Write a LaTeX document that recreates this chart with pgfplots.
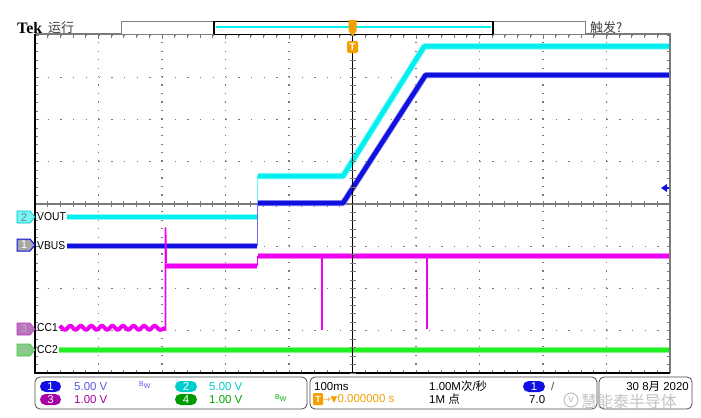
\documentclass[border=0pt]{standalone}
\usepackage{pgfplots}
\pgfplotsset{compat=1.18}
\usepackage{fontspec}
\setmainfont{Liberation Sans}
\newfontfamily\cjk{Noto Sans CJK SC}
\newfontfamily\tekfont{Liberation Serif}
\newfontfamily\sym{DejaVu Sans}
\definecolor{chcyan}{HTML}{00F0F0}
\definecolor{chblue}{HTML}{1010E0}
\definecolor{chmag}{HTML}{F000F0}
\definecolor{chgreen}{HTML}{20F020}
\definecolor{tekorange}{HTML}{F5A000}
\definecolor{gridgray}{HTML}{7A7A7A}
\newcommand\lbl{\fontsize{11.5}{12}\selectfont}

\begin{document}
\begin{tikzpicture}
\fill[white] (0,0) rectangle (701bp,-418bp);
\path[use as bounding box] (0,0) rectangle (701bp,-418bp);

% centre horizontal line of the graticule (under the traces)
\begin{scope}[x=1bp,y=-1bp]
\draw[gridgray, line width=1.6bp] (35,204) -- (670,204);
\foreach \k in {0,...,50} \draw[gridgray, line width=0.9bp] (35+12.7*\k,201) -- (35+12.7*\k,207);
\end{scope}

\begin{axis}[
  at={(35bp,-373bp)}, anchor=south west,
  scale only axis, width=635bp, height=338bp,
  xmin=-5, xmax=5, ymin=-4, ymax=4,
  xtick={-5,...,5}, ytick={-4,...,4},
  minor x tick num=4, minor y tick num=4,
  xticklabels={}, yticklabels={},
  tick align=inside,
  major tick length=3.5bp, minor tick length=3bp,
  tick style={gridgray, line width=0.9bp},
  grid=major,
  x grid style={gridgray, line width=1.4bp, dash pattern=on 1.3bp off 7.15bp},
  y grid style={gridgray, line width=1.4bp, dash pattern=on 1.3bp off 11.4bp},
  axis line style={draw=none},
  line join=round,
]
% CH2 VOUT (cyan)
\addplot[chcyan!45, line width=6.5bp] coordinates {(-4.50,-0.31) (-1.50,-0.31)};
\addplot[chcyan!45, line width=6.5bp] coordinates {(-1.49,0.66) (-0.15,0.66) (1.13,3.73) (5,3.73)};
\addplot[chcyan, line width=4.5bp] coordinates {(-4.50,-0.31) (-1.50,-0.31)};
\addplot[chcyan!60, line width=1.2bp] coordinates {(-1.50,-0.31) (-1.50,0.66)};
\addplot[chcyan, line width=4.5bp] coordinates {(-1.49,0.66) (-0.15,0.66) (1.13,3.73) (5,3.73)};
% CH1 VBUS (blue)
\addplot[chblue!45, line width=6bp] coordinates {(-4.50,-0.99) (-1.50,-0.99)};
\addplot[chblue!45, line width=6bp] coordinates {(-1.49,0.02) (-0.15,0.02) (1.15,3.05) (5,3.05)};
\addplot[chblue, line width=4.5bp] coordinates {(-4.50,-0.99) (-1.50,-0.99)};
\addplot[chblue!60, line width=1.2bp] coordinates {(-1.50,-0.99) (-1.50,0.02)};
\addplot[chblue, line width=4.5bp] coordinates {(-1.49,0.02) (-0.15,0.02) (1.15,3.05) (5,3.05)};
% CH3 CC1 (magenta), ripple before attach
\addplot[chmag, line width=4bp, smooth, tension=0.6] coordinates {
(-4.610,-2.88) (-4.527,-2.98) (-4.444,-2.88) (-4.361,-2.98) (-4.278,-2.88)
(-4.195,-2.98) (-4.112,-2.88) (-4.029,-2.98) (-3.946,-2.88) (-3.863,-2.98)
(-3.780,-2.88) (-3.697,-2.98) (-3.614,-2.88) (-3.531,-2.98) (-3.448,-2.88)
(-3.365,-2.98) (-3.282,-2.88) (-3.199,-2.98) (-3.116,-2.88) (-3.033,-2.98)
(-2.950,-2.93)};
\addplot[chmag, line width=1.8bp] coordinates {(-2.945,-3.00) (-2.945,-0.57) (-2.935,-1.47)};
\addplot[chmag!50, line width=6bp] coordinates {(-2.93,-1.47) (-1.50,-1.47)};
\addplot[chmag, line width=4.2bp] coordinates {(-2.93,-1.47) (-1.50,-1.47)};
\addplot[chmag, line width=1.2bp] coordinates {(-1.50,-1.47) (-1.50,-1.23)};
\addplot[chmag!50, line width=6bp] coordinates {(-1.49,-1.23) (5,-1.23)};
\addplot[chmag, line width=4.2bp] coordinates {(-1.49,-1.23) (-0.50,-1.23) (5,-1.23)};
\addplot[chmag, line width=2.5bp] coordinates {(-0.48,-1.23) (-0.48,-2.98)};
\addplot[chmag, line width=1.8bp] coordinates {(1.17,-1.23) (1.17,-2.97)};
% CH4 CC2 (green)
\addplot[chgreen!55, line width=6bp] coordinates {(-4.62,-3.455) (5,-3.455)};
\addplot[chgreen, line width=4bp] coordinates {(-4.62,-3.455) (5,-3.455)};
\end{axis}

\begin{scope}[x=1bp,y=-1bp]
% graticule border and trigger-position line
\draw[gridgray, line width=2bp] (35,34) -- (670,34) -- (670,373);
\draw[black, line width=1.4bp] (35,34) -- (35,373) -- (670,373);
\draw[black, line width=1.3bp] (352.5,34) -- (352.5,373);
\foreach \k in {0,...,40} \draw[gridgray, line width=0.9bp] (349.5,35+8.45*\k) -- (355.5,35+8.45*\k);
% trigger level arrow
\fill[chblue] (661,188) -- (667,184) -- (667,192) -- cycle;
\draw[chblue, line width=1.2bp] (664,188) -- (669,188);

% top bar
\node[anchor=base west, inner sep=0, font=\tekfont\bfseries\fontsize{16}{16}\selectfont] at (17,33) {Tek};
\node[anchor=base west, inner sep=0, text=black!75, font=\cjk\fontsize{13}{13}\selectfont] at (48,32) {运行};
\draw[gray, fill=white, line width=0.9bp] (121,21) rectangle (585,34);
\draw[black, line width=0.9bp] (214,21) -- (493,21) (214,34) -- (493,34);
\draw[black, line width=2bp] (214,21) -- (214,34) (493,21) -- (493,34);
\draw[chcyan, line width=1.2bp] (216,27) -- (491,27);
\fill[tekorange] (348.5,20) -- (356.5,20) -- (356.5,31) -- (352.5,36) -- (348.5,31) -- cycle;
\fill[tekorange, rounded corners=1.5bp] (347,41) rectangle (358,53);
\node[text=white, inner sep=0, font=\fontsize{10}{10}\selectfont\bfseries] at (352.5,47) {T};
\node[anchor=base west, inner sep=0, text=black!75, font=\cjk\fontsize{13}{13}\selectfont] at (590,32) {触发?};

% channel markers on the left
\filldraw[fill=chcyan!55, draw=chcyan!80!black, line width=0.6bp] (17,211) -- (30,211) -- (35,217) -- (30,223) -- (17,223) -- cycle;
\node[text=gray, inner sep=0, font=\lbl] at (24,217) {2};
\filldraw[fill=gray!70, draw=chblue, line width=1bp] (17,239) -- (30,239) -- (35,245) -- (30,251) -- (17,251) -- cycle;
\node[text=white, inner sep=0, font=\lbl] at (24,245) {1};
\filldraw[fill=chmag!40!gray!80, draw=chmag!50!gray, line width=0.6bp] (17,323) -- (30,323) -- (35,329) -- (30,335) -- (17,335) -- cycle;
\node[text=gray!60, inner sep=0, font=\lbl] at (24,329) {3};
\filldraw[fill=chgreen!50!gray!70, draw=chgreen!60!gray, line width=0.6bp] (17,344) -- (30,344) -- (35,350) -- (30,356) -- (17,356) -- cycle;
\node[text=gray!60, inner sep=0, font=\lbl] at (24,350) {4};
\node[anchor=west, inner sep=0, xscale=0.9, font=\lbl] at (37,217) {VOUT};
\node[anchor=west, inner sep=0, xscale=0.9, font=\lbl] at (37,246) {VBUS};
\node[anchor=west, inner sep=0, xscale=0.9, font=\lbl] at (37,328) {CC1};
\node[anchor=west, inner sep=0, xscale=0.9, font=\lbl] at (37,350) {CC2};

% readout panels
\draw[rounded corners=5bp, black!70, line width=0.8bp] (35,377) rectangle (307,409);
\draw[rounded corners=5bp, black!70, line width=0.8bp] (310,377) rectangle (597,409);
\draw[rounded corners=5bp, black!70, line width=0.8bp] (599,377) rectangle (692,409);

\fill[chblue, rounded corners=5.5bp] (40,381) rectangle (61,392);
\node[text=white, inner sep=0, font=\lbl] at (50.5,386.5) {1};
\fill[chcyan!85!black, rounded corners=5.5bp] (175,381) rectangle (197,392);
\node[text=white, inner sep=0, font=\lbl] at (186,386.5) {2};
\fill[violet!70!magenta, rounded corners=5.5bp] (40,394) rectangle (61,405);
\node[text=white, inner sep=0, font=\lbl] at (50.5,399.5) {3};
\fill[green!60!black, rounded corners=5.5bp] (175,394) rectangle (197,405);
\node[text=white, inner sep=0, font=\lbl] at (186,399.5) {4};

\node[anchor=west, inner sep=0, text=chblue!70!white, font=\lbl] at (74,386.5) {5.00 V};
\node[anchor=west, inner sep=0, text=chcyan!85!black, font=\lbl] at (209,386.5) {5.00 V};
\node[anchor=west, inner sep=0, text=violet!70!magenta, font=\lbl] at (74,399.5) {1.00 V};
\node[anchor=west, inner sep=0, text=green!65!black, font=\lbl] at (209,399.5) {1.00 V};
\node[anchor=west, inner sep=0, text=chblue!70!white, font=\fontsize{7}{7}\selectfont] at (139,385) {B\raisebox{-2bp}{W}};
\node[anchor=west, inner sep=0, text=green!65!black, font=\fontsize{7}{7}\selectfont] at (275,398) {B\raisebox{-2bp}{W}};

\node[anchor=west, inner sep=0, font=\lbl] at (314,386.5) {100ms};
\fill[tekorange, rounded corners=1bp] (313,393) rectangle (323,405);
\node[text=white, inner sep=0, font=\fontsize{9}{9}\selectfont\bfseries] at (318,399) {T};
\node[anchor=west, inner sep=0, text=tekorange, font=\lbl] at (323,399.5) {{\sym\fontsize{9}{9}\selectfont →▼}0.000000 s};
\node[anchor=west, inner sep=0, font=\lbl] at (429,386.5) {1.00M{\cjk 次}/{\cjk 秒}};
\node[anchor=west, inner sep=0, font=\lbl] at (429,399.5) {1M {\cjk 点}};
\fill[chblue, rounded corners=5.5bp] (523,381) rectangle (545,392);
\node[text=white, inner sep=0, font=\lbl] at (534,386.5) {1};
\node[anchor=west, inner sep=0, text=black!70, font=\lbl] at (551,386.5) {/};
\node[anchor=west, inner sep=0, font=\lbl] at (529,399.5) {7.0};
\node[anchor=east, inner sep=0, font=\lbl] at (689,386.5) {30 8{\cjk 月} 2020};

% watermark
\draw[gray!60, line width=0.8bp] (571,400) circle (7bp);
\node[text=gray!60, inner sep=0, font=\fontsize{8}{8}\selectfont] at (571,400) {V};
\node[anchor=west, inner sep=0, text=gray!55, opacity=0.85, font=\cjk\fontsize{16}{16}\selectfont] at (581,401) {慧能泰半导体};
\end{scope}
\end{tikzpicture}
\end{document}
